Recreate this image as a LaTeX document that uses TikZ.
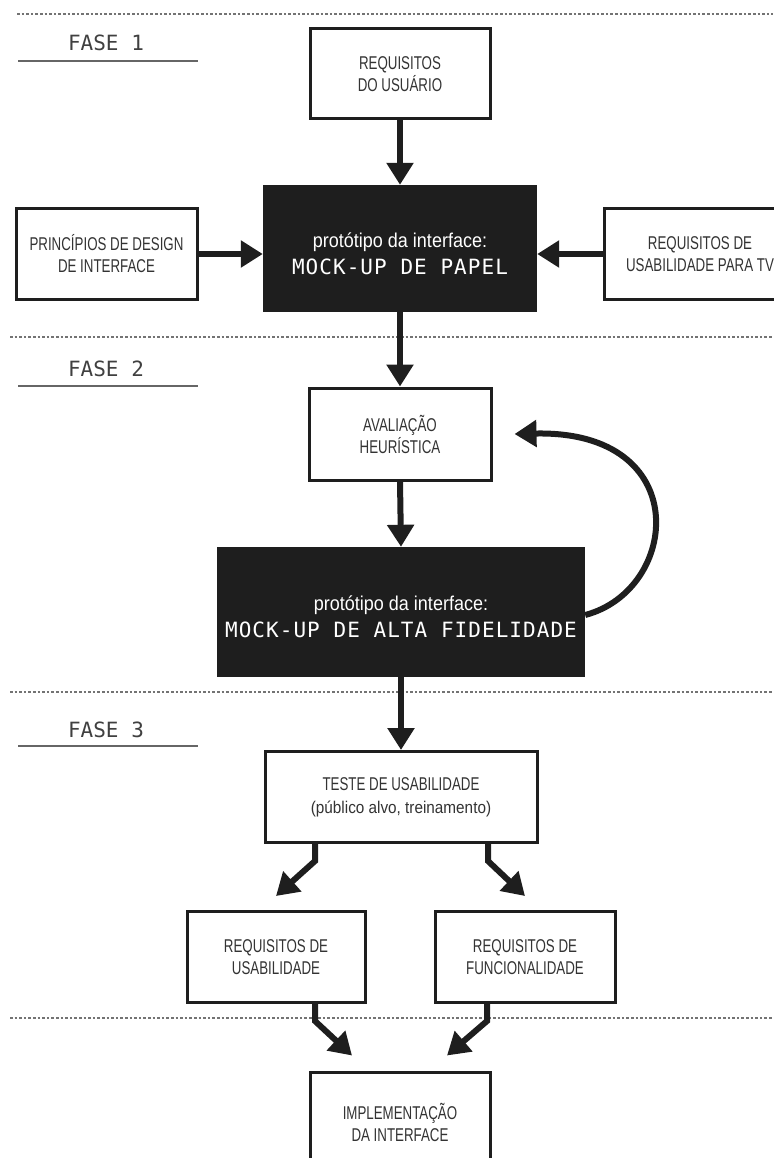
\documentclass[tikz,border=0pt]{standalone}
\usepackage{fontspec}
\setmainfont{Liberation Sans}[FakeStretch=0.72]
\newfontfamily\protof{Liberation Sans}[FakeStretch=0.9]
\newfontfamily\lcd{DejaVu Sans Mono}[LetterSpace=5]
\newfontfamily\lcdph{DejaVu Sans Mono}
\usetikzlibrary{arrows.meta}
\definecolor{ink}{HTML}{1E1E1E}
\definecolor{txt}{HTML}{333333}
\tikzset{
  box/.style={draw=ink, line width=3pt, fill=white, text=txt, align=center,
    font=\fontsize{18.5}{22}\selectfont, inner sep=0pt},
  dark/.style={fill=ink, draw=none, text=white, align=center, inner sep=0pt},
  arr/.style={-{Triangle[width=26pt,length=22pt]}, line width=6pt, draw=ink},
  sep/.style={draw=black!55, line width=1.3pt, dash pattern=on 2.6pt off 2pt},
  uline/.style={draw=black!60, line width=1.3pt},
  phase/.style={font=\lcdph\fontsize{21}{24}\selectfont, text=black!75, inner sep=0pt},
  proto/.style={font=\protof\fontsize{20}{22}\selectfont},
  mock/.style={font=\lcd\fontsize{21}{24}\selectfont}
}
\begin{document}
\begin{tikzpicture}[x=1pt,y=-1pt]
\useasboundingbox (0,0) rectangle (773,1158);

% separators
\draw[sep] (17,14) -- (773,14);
\draw[sep] (10,337) -- (773,337);
\draw[sep] (10,692) -- (773,692);
\draw[sep] (10,1018) -- (773,1018);

% phase labels
\node[phase] (f1) at (106,43) {FASE 1};
\draw[uline] (18,61) -- (198,61);
\node[phase] (f2) at (106,369) {FASE 2};
\draw[uline] (18,386) -- (198,386);
\node[phase] (f3) at (106,730) {FASE 3};
\draw[uline] (18,746) -- (198,746);

% fase 1
\node[box, minimum width=180pt, minimum height=90pt] (usr) at (400,74) {REQUISITOS\\DO USUÁRIO};
\node[dark, minimum width=274pt, minimum height=127pt] (pb1) at (400,248.5) {};
\node[proto, text=white] (pb1a) at (400,242) {protótipo da interface:};
\node[mock, text=white] (pb1b) at (400,267) {MOCK-UP DE PAPEL};
\node[box, minimum width=181pt, minimum height=91pt] (pri) at (106.5,254) {PRINCÍPIOS DE DESIGN\\DE INTERFACE};
\node[box, minimum width=192pt, minimum height=91pt] (rtv) at (700,254) {REQUISITOS DE\\USABILIDADE PARA TV};

\draw[arr] (usr.south) -- (pb1.north);
\draw[arr] (pri.east) -- (pri.east -| pb1.west);
\draw[arr] (rtv.west) -- (rtv.west -| pb1.east);

% fase 2
\node[box, minimum width=182pt, minimum height=92pt] (ava) at (400,434) {AVALIAÇÃO\\HEURÍSTICA};
\node[dark, minimum width=368pt, minimum height=130pt] (pb2) at (401,612) {};
\node[proto, text=white] (pb2a) at (401,605) {protótipo da interface:};
\node[mock, text=white] (pb2b) at (401,630) {MOCK-UP DE ALTA FIDELIDADE};

\draw[arr] (pb1.south) -- (ava.north);
\draw[arr] (ava.south) -- (pb2.north);
\draw[arr] ([yshift=-3pt]pb2.east) .. controls (680,590) and (695,430) .. ([xshift=22pt]ava.east);

% fase 3
\node[box, minimum width=272pt, minimum height=91pt] (tst) at (401,797) {TESTE DE USABILIDADE\\[1pt]{\protof\fontsize{17}{20}\selectfont (público alvo, treinamento)}};
\draw[arr] (pb2.south) -- (tst.north);

\node[box, minimum width=178pt, minimum height=91pt] (rus) at (276,957) {REQUISITOS DE\\USABILIDADE};
\node[box, minimum width=180pt, minimum height=91pt] (rfu) at (525,957) {REQUISITOS DE\\FUNCIONALIDADE};

\draw[arr] ([xshift=-86pt]tst.south) -- ++(0,17) -- ([yshift=14pt]rus.north);
\draw[arr] ([xshift=87pt]tst.south) -- ++(0,17) -- ([yshift=14pt]rfu.north);

\node[box, minimum width=180pt, minimum height=100pt] (imp) at (400,1122) {IMPLEMENTAÇÃO\\DA INTERFACE};

\draw[arr] ([xshift=39pt]rus.south) -- ++(0,17) -- ([xshift=-48pt,yshift=15pt]imp.north);
\draw[arr] ([xshift=-38pt]rfu.south) -- ++(0,17) -- ([xshift=47pt,yshift=15pt]imp.north);
\end{tikzpicture}
\end{document}
